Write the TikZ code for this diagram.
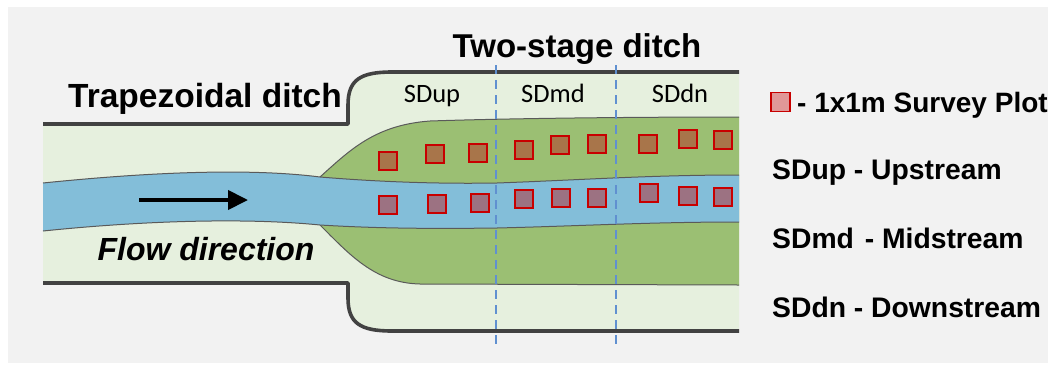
\documentclass[tikz,border=0pt]{standalone}
\usepackage{fontspec}
\setmainfont{Liberation Sans}
\newfontfamily\calfont{Carlito}
\usetikzlibrary{arrows.meta}
\definecolor{bggray}{HTML}{F2F2F2}
\definecolor{lgreen}{HTML}{E6F0DE}
\definecolor{bank}{HTML}{9BBF73}
\definecolor{water}{HTML}{83BED9}
\definecolor{wall}{HTML}{424242}
\definecolor{plotred}{HTML}{C80000}
\definecolor{plotbrown}{HTML}{A8754A}
\definecolor{plotmauve}{HTML}{9C7282}
\definecolor{legfill}{HTML}{E09898}
\definecolor{dashblue}{HTML}{6090D0}
\definecolor{outl}{HTML}{5A5A5A}
\tikzset{
  wallline/.style={draw=wall,line width=3.6pt,line join=round},
  edgeline/.style={draw=outl,line width=1pt},
  plotbox/.style={draw=plotred,line width=1.8pt,minimum width=18pt,minimum height=18pt,inner sep=0pt,rectangle},
  upplot/.style={plotbox,fill=plotbrown},
  lowplot/.style={plotbox,fill=plotmauve},
  secline/.style={draw=dashblue,line width=1.1pt,dash pattern=on 9pt off 6pt},
  boldlbl/.style={font=\bfseries\fontsize{33.5}{38}\selectfont,inner sep=0pt,anchor=base},
  seclbl/.style={font=\calfont\fontsize{26.5}{30}\selectfont,inner sep=0pt,anchor=base},
  leglbl/.style={font=\bfseries\fontsize{28.3}{33}\selectfont,inner sep=0pt,anchor=base west},
}
\begin{document}
\begin{tikzpicture}[x=1pt,y=-1pt]
\useasboundingbox (0,0) rectangle (1053,365);
\fill[white] (0,0) rectangle (1053,365);
\fill[bggray] (8,7) rectangle (1048,363);
% ditch floor
\fill[lgreen] (43,124) -- (348,124) -- (348,105) .. controls (348,80) and (360,72) .. (392,72) -- (739,72)
  -- (739,331) -- (392,331) .. controls (360,331) and (348,323) .. (348,298) -- (348,283) -- (43,283) -- cycle;
% green bank
\fill[bank] (320,177) .. controls (350,150) and (375,125) .. (430,121) .. controls (520,118) and (650,117) .. (739,117)
  -- (739,285) -- (420,284) .. controls (375,283) and (350,255) .. (320,225) -- cycle;
\draw[edgeline] (320,177) .. controls (350,150) and (375,125) .. (430,121) .. controls (520,118) and (650,117) .. (739,117);
\draw[edgeline] (739,285) -- (420,284) .. controls (375,283) and (350,255) .. (320,225);
% water
\fill[water] (43,183) .. controls (150,172) and (250,168) .. (320,177) .. controls (380,182) and (440,184) .. (497,183)
  .. controls (580,180) and (650,175) .. (739,175) -- (739,222)
  .. controls (650,222) and (580,226) .. (497,228) .. controls (420,229) and (370,228) .. (320,225)
  .. controls (250,218) and (150,220) .. (43,231) -- cycle;
\draw[edgeline] (43,183) .. controls (150,172) and (250,168) .. (320,177) .. controls (380,182) and (440,184) .. (497,183)
  .. controls (580,180) and (650,175) .. (739,175);
\draw[edgeline] (739,222) .. controls (650,222) and (580,226) .. (497,228) .. controls (420,229) and (370,228) .. (320,225)
  .. controls (250,218) and (150,220) .. (43,231);
% walls
\draw[wallline] (43,124) -- (348,124) -- (348,105) .. controls (348,80) and (360,72) .. (392,72) -- (739,72);
\draw[wallline] (43,283) -- (348,283) -- (348,298) .. controls (348,323) and (360,331) .. (392,331) -- (739,331);
% section lines
\coordinate (d1t) at (496,65); \coordinate (d1b) at (496,348);
\coordinate (d2t) at (616,65); \coordinate (d2b) at (616,348);
\draw[secline] (d1t) -- (d1b);
\draw[secline] (d2t) -- (d2b);
% plots
\node[upplot] (u1) at (388,161) {};
\node[upplot] (u2) at (435,154) {};
\node[upplot] (u3) at (478,153) {};
\node[upplot] (u4) at (524,150) {};
\node[upplot] (u5) at (560,145) {};
\node[upplot] (u6) at (597,144) {};
\node[upplot] (u7) at (648,144) {};
\node[upplot] (u8) at (688,139) {};
\node[upplot] (u9) at (723,140) {};
\node[lowplot] (l1) at (388,205) {};
\node[lowplot] (l2) at (437,204) {};
\node[lowplot] (l3) at (480,203) {};
\node[lowplot] (l4) at (524,199) {};
\node[lowplot] (l5) at (561,198) {};
\node[lowplot] (l6) at (597,198) {};
\node[lowplot] (l7) at (649,193) {};
\node[lowplot] (l8) at (688,196) {};
\node[lowplot] (l9) at (723,197) {};
% arrow
\coordinate (fa) at (139,200); \coordinate (fb) at (248,200);
\draw[line width=4pt,-{Triangle[length=20pt,width=19pt]}] (fa) -- (fb);
% labels
\node[boldlbl] (trap) at (205,107) {Trapezoidal ditch};
\node[boldlbl,font=\bfseries\fontsize{33}{38}\selectfont] (two) at (577,57) {Two-stage ditch};
\node[boldlbl,font=\bfseries\itshape\fontsize{32}{38}\selectfont] (flow) at (206,260) {Flow direction};
\node[seclbl] (sdup) at (432,102) {SDup};
\node[seclbl] (sdmd) at (553,102) {SDmd};
\node[seclbl] (sddn) at (680,102) {SDdn};
% legend
\node[plotbox,fill=legfill,line width=1.3pt,minimum width=19pt,minimum height=19pt] (leg) at (780.5,102) {};
\node[leglbl,font=\bfseries\fontsize{28}{33}\selectfont] (legt) at (797,112) {- 1x1m Survey Plot};
\node[leglbl] (l1t) at (772,179) {SDup - Upstream};
\node[leglbl] (l2t) at (772,248) {SDmd\kern3pt\ - Midstream};
\node[leglbl] (l3t) at (772,317) {SDdn - Downstream};
\end{tikzpicture}
\end{document}
